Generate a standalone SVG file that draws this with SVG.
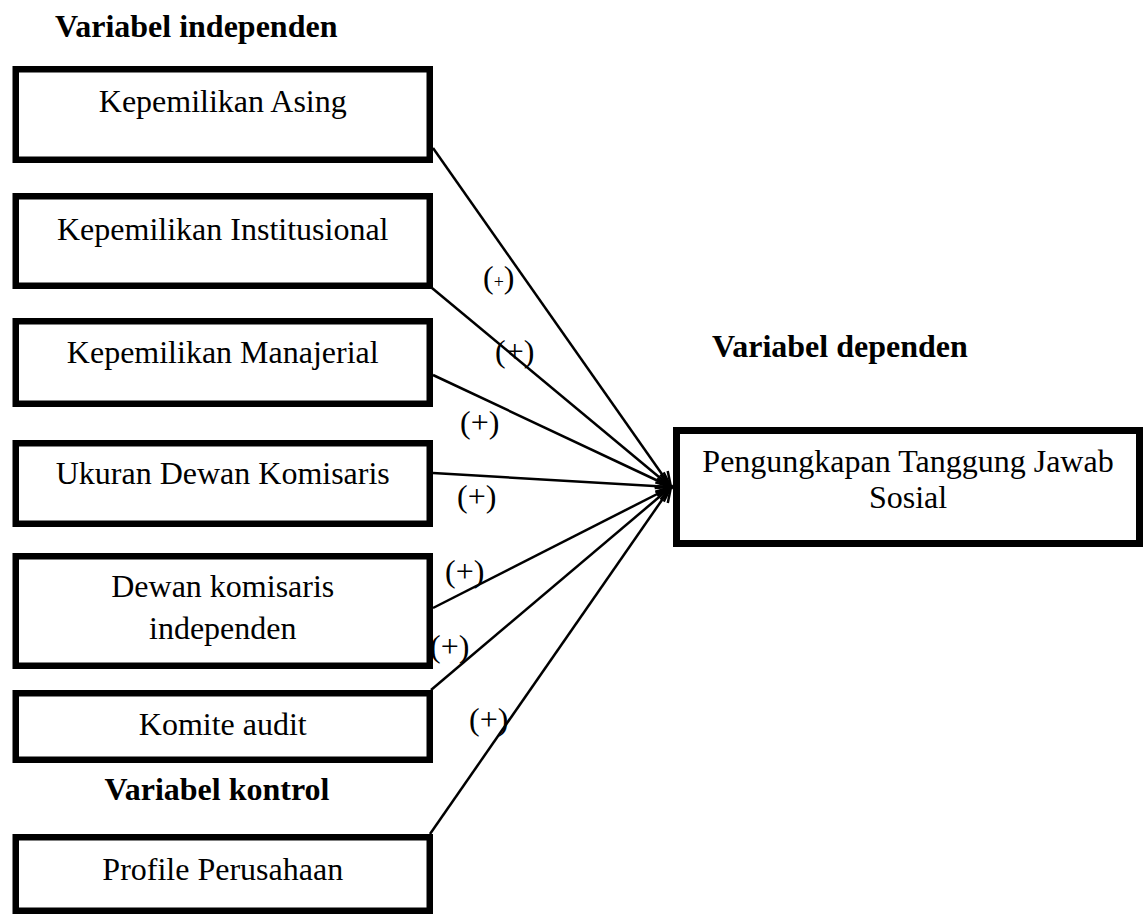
<svg xmlns="http://www.w3.org/2000/svg" width="1148" height="915" viewBox="0 0 1148 915">
  <defs>
    <style>
      .box { fill: #ffffff; stroke: #000000; stroke-width: 6.5; }
      .t { font-family: "Liberation Serif", "Times New Roman", serif; font-size: 32px; fill: #000000; }
      .c { text-anchor: middle; }
      .b { font-weight: bold; }
      .conn { stroke: #000000; stroke-width: 2.5; fill: none; marker-end: url(#arr); }
    </style>
    <marker id="arr" markerUnits="userSpaceOnUse" markerWidth="20" markerHeight="16" viewBox="0 0 20 16" refX="17" refY="8" orient="auto">
      <path d="M2,1.5 L17,8 L2,14.5" fill="none" stroke="#000000" stroke-width="2.5"/>
    </marker>
  </defs>
  <rect width="1148" height="915" fill="#ffffff"/>

  <g id="headings">
    <text class="t b" x="55" y="37">Variabel independen</text>
    <text class="t b" x="712" y="357">Variabel dependen</text>
    <text class="t b c" x="217" y="800">Variabel kontrol</text>
  </g>

  <g id="connectors">
    <line class="conn" x1="433" y1="148" x2="671" y2="487"/>
    <line class="conn" x1="432" y1="288" x2="671" y2="487"/>
    <line class="conn" x1="433" y1="375" x2="671" y2="487"/>
    <line class="conn" x1="433" y1="473" x2="671" y2="487"/>
    <line class="conn" x1="433" y1="608" x2="671" y2="487"/>
    <line class="conn" x1="431" y1="690" x2="671" y2="487"/>
    <line class="conn" x1="430" y1="834" x2="671" y2="487"/>
  </g>

  <g id="labels">
    <text class="t" x="483" y="288">(<tspan font-size="18">+</tspan>)</text>
    <text class="t" x="495" y="362">(+)</text>
    <text class="t" x="460" y="433">(+)</text>
    <text class="t" x="457" y="507">(+)</text>
    <text class="t" x="445" y="582">(+)</text>
    <text class="t" x="430" y="657">(+)</text>
    <text class="t" x="469" y="730">(+)</text>
  </g>

  <g id="node-kepemilikan-asing">
    <rect class="box" x="15.75" y="69.25" width="414" height="90.5"/>
    <text class="t c" x="222.75" y="112">Kepemilikan Asing</text>
  </g>
  <g id="node-kepemilikan-institusional">
    <rect class="box" x="15.75" y="196.25" width="414" height="89.5"/>
    <text class="t c" x="222.75" y="240">Kepemilikan Institusional</text>
  </g>
  <g id="node-kepemilikan-manajerial">
    <rect class="box" x="15.75" y="321.25" width="414" height="82.5"/>
    <text class="t c" x="222.75" y="363">Kepemilikan Manajerial</text>
  </g>
  <g id="node-ukuran-dewan">
    <rect class="box" x="15.75" y="443.25" width="414" height="80.5"/>
    <text class="t c" x="222.75" y="484">Ukuran Dewan Komisaris</text>
  </g>
  <g id="node-dewan-independen">
    <rect class="box" x="15.75" y="556.25" width="414" height="109.5"/>
    <text class="t c" x="222.75" y="597">Dewan komisaris</text>
    <text class="t c" x="222.75" y="639">independen</text>
  </g>
  <g id="node-komite-audit">
    <rect class="box" x="15.75" y="693.25" width="414" height="66.5"/>
    <text class="t c" x="222.75" y="735">Komite audit</text>
  </g>
  <g id="node-profile-perusahaan">
    <rect class="box" x="15.75" y="837.25" width="414" height="73.5"/>
    <text class="t c" x="222.75" y="880">Profile Perusahaan</text>
  </g>
  <g id="node-pengungkapan">
    <rect class="box" x="676.5" y="430.5" width="463" height="113" style="stroke-width:7"/>
    <text class="t c" x="908" y="472">Pengungkapan Tanggung Jawab</text>
    <text class="t c" x="908" y="508">Sosial</text>
  </g>
</svg>
